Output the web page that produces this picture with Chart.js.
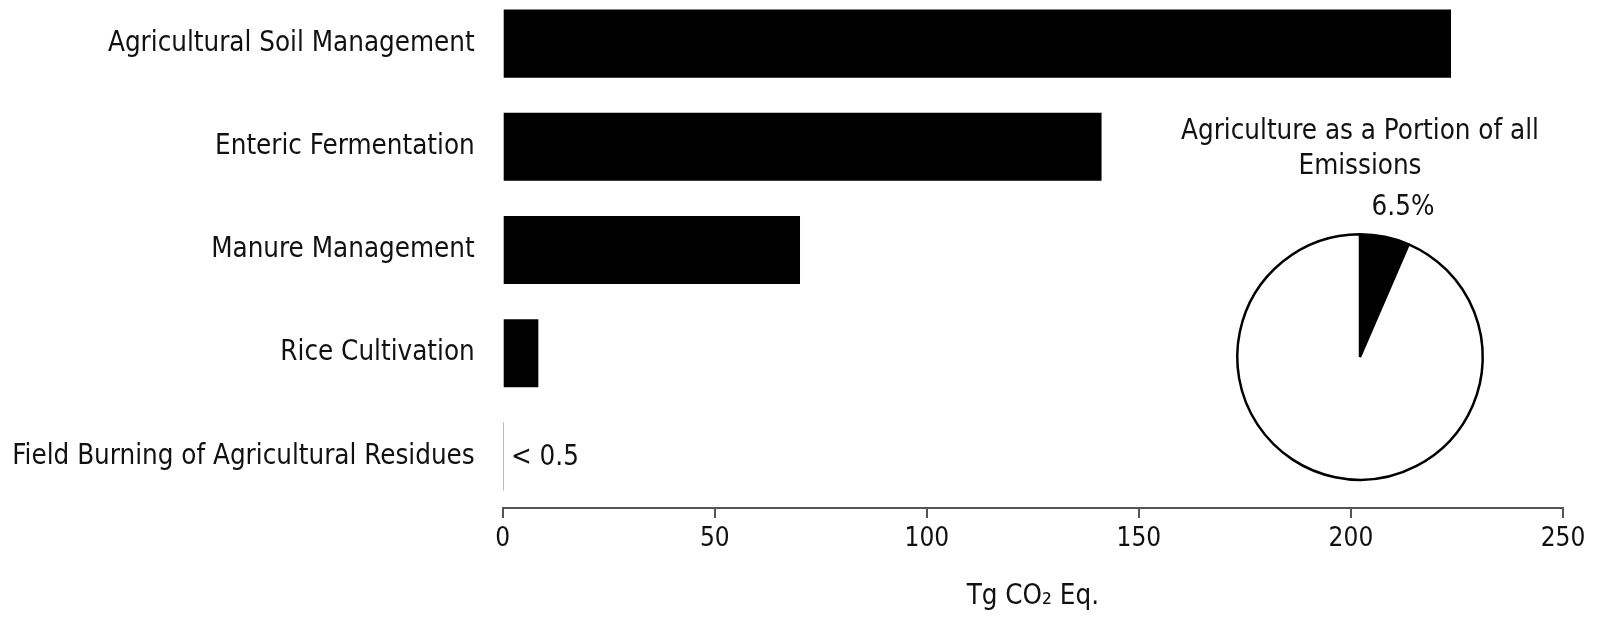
<!DOCTYPE html>
<html>
<head>
<meta charset="utf-8">
<script src="https://cdn.jsdelivr.net/npm/chart.js@4.4.1/dist/chart.umd.min.js"></script>
<style>
  html, body { margin: 0; padding: 0; background: #fff; overflow: hidden; }
  #wrap { position: relative; width: 1597px; height: 617px; overflow: hidden; }
  #barBox { position: absolute; left: 0; top: -8px; width: 1597px; height: 625px; }
  #pieBox { position: absolute; left: 1150px; top: 100px; width: 420px; height: 400px; }
</style>
</head>
<body>
<div id="wrap">
  <div id="barBox"><canvas id="bar"></canvas></div>
  <div id="pieBox"><canvas id="pie"></canvas></div>
</div>
<script>
// ---- data ----
const categories = [
  'Agricultural Soil Management',
  'Enteric Fermentation',
  'Manure Management',
  'Rice Cultivation',
  'Field Burning of Agricultural Residues'
];
const emissions = [223.6, 141.2, 70.1, 8.4, 0.3];
const barNotes = ['', '', '', '', '< 0.5'];
const xTicks = [0, 50, 100, 150, 200, 250];
const xTitle = 'Tg CO\u2082 Eq.';

const pieTitle = ['Agriculture as a Portion of all', 'Emissions'];
const pieLabels = ['Agriculture', 'Other'];
const pieValues = [6.5, 93.5];
const pieNotes = ['6.5%', ''];

const FONT = '"DejaVu Sans Condensed", "DejaVu Sans", sans-serif';
const FS = 27.5;
const FT = 26;
const TXT = '#111';

const notePlugin = {
  id: 'notes',
  afterDatasetsDraw(chart) {
    const meta = chart.getDatasetMeta(0);
    const ctx = chart.ctx;
    ctx.save();
    ctx.font = FS + 'px ' + FONT;
    ctx.fillStyle = TXT;
    ctx.textAlign = 'left';
    ctx.textBaseline = 'middle';
    meta.data.forEach((el, i) => {
      if (barNotes[i]) ctx.fillText(barNotes[i], el.x + 7, el.y + 1);
    });
    ctx.restore();
  }
};

new Chart(document.getElementById('bar'), {
  type: 'bar',
  data: {
    labels: categories,
    datasets: [{
      data: emissions,
      backgroundColor: '#000',
      borderWidth: 0,
      barPercentage: 0.66,
      categoryPercentage: 1.0
    }]
  },
  options: {
    indexAxis: 'y',
    responsive: true,
    maintainAspectRatio: false,
    animation: false,
    layout: { padding: { left: 0, right: 34, top: 0, bottom: 0 } },
    plugins: { legend: { display: false }, tooltip: { enabled: false }, title: { display: false } },
    scales: {
      y: {
        grid: { display: false, drawTicks: true, tickLength: 28 },
        border: { display: false },
        ticks: { color: TXT, font: { family: FONT, size: FS }, padding: 0 },
        afterFit(s) { s.width = 502.7; s.paddingTop = 0; s.paddingBottom = 0; }
      },
      x: {
        min: 0, max: 250,
        afterBuildTicks(s) { s.ticks = xTicks.map(v => ({ value: v })); },
        grid: { drawOnChartArea: false, drawTicks: true, tickLength: 10, color: '#555', lineWidth: 2 },
        border: { display: true, color: '#555', width: 2 },
        ticks: { color: TXT, font: { family: FONT, size: FT }, padding: 6, maxRotation: 0 },
        title: { display: true, text: xTitle, color: TXT, font: { family: FONT, size: FS }, padding: { top: 0, bottom: 4 } },
        afterFit(s) { s.height = 109; }
      }
    }
  },
  plugins: [notePlugin]
});

const pieTextPlugin = {
  id: 'pieText',
  afterDatasetsDraw(chart) {
    const arc = chart.getDatasetMeta(0).data[0];
    const ctx = chart.ctx;
    const cx = arc.x, cy = arc.y, r = arc.outerRadius;
    ctx.save();
    ctx.font = FS + 'px ' + FONT;
    ctx.fillStyle = TXT;
    ctx.textAlign = 'center';
    ctx.textBaseline = 'middle';
    ctx.fillText(pieTitle[0], cx, cy - 225);
    ctx.fillText(pieTitle[1], cx, cy - 190);
    chart.getDatasetMeta(0).data.forEach((a, i) => {
      if (!pieNotes[i]) return;
      const mid = (a.startAngle + a.endAngle) / 2;
      const rr = r + 30;
      ctx.fillText(pieNotes[i], cx + Math.cos(mid) * rr + 12, cy + Math.sin(mid) * rr);
    });
    ctx.restore();
  }
};

new Chart(document.getElementById('pie'), {
  type: 'pie',
  data: {
    labels: pieLabels,
    datasets: [{
      data: pieValues,
      backgroundColor: ['#000', '#fff'],
      borderColor: '#000',
      borderWidth: 2.5
    }]
  },
  options: {
    responsive: true,
    maintainAspectRatio: false,
    animation: false,
    layout: { padding: { top: 133, left: 86, right: 86, bottom: 19 } },
    plugins: { legend: { display: false }, tooltip: { enabled: false } }
  },
  plugins: [pieTextPlugin]
});
</script>
</body>
</html>
